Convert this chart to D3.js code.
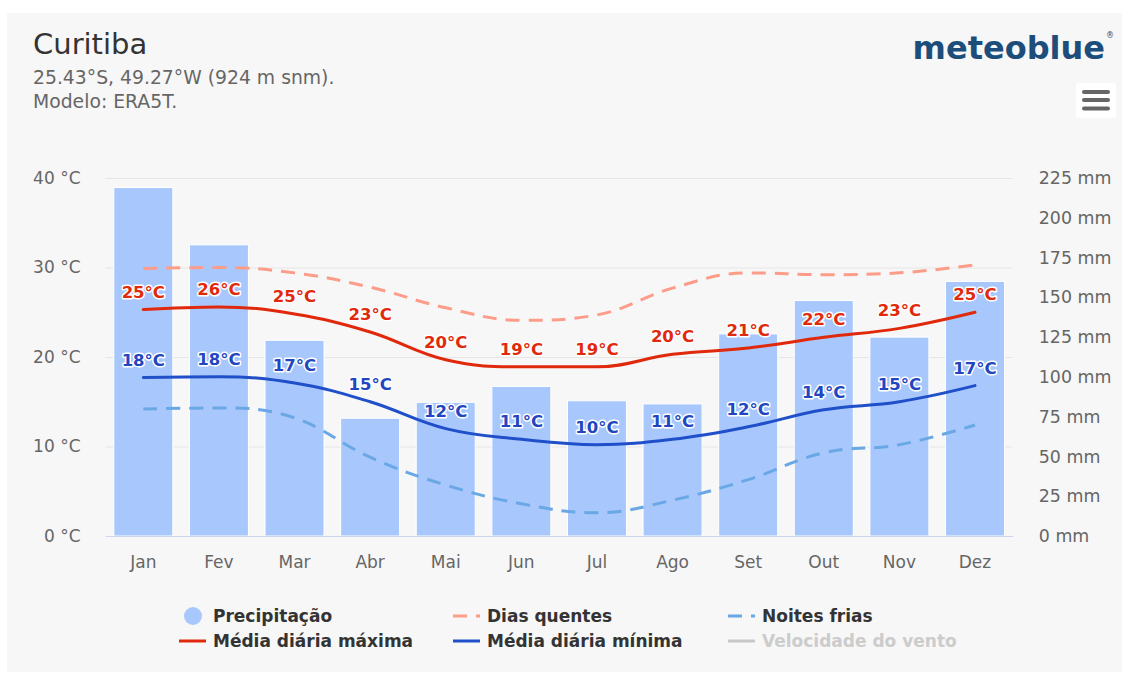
<!DOCTYPE html>
<html>
<head>
<meta charset="utf-8">
<script src="https://cdn.jsdelivr.net/npm/d3@7"></script>
<style>
  html, body { margin: 0; padding: 0; background: #ffffff; }
  svg { display: block; font-family: "DejaVu Sans", sans-serif; }
</style>
</head>
<body>
<svg id="chart" width="1130" height="674"></svg>
<script>
// Climate summary for Curitiba: monthly means
const months = ["Jan", "Fev", "Mar", "Abr", "Mai", "Jun", "Jul", "Ago", "Set", "Out", "Nov", "Dez"];
const precipitation = [219, 183, 123, 74, 84, 94, 85, 83, 127, 148, 125, 160];      // mm
const tempMax = [25.3, 25.6, 24.8, 22.8, 19.7, 18.9, 18.9, 20.3, 21.0, 22.2, 23.2, 25.0];
const tempMin = [17.7, 17.8, 17.1, 15.0, 12.0, 10.8, 10.2, 10.8, 12.2, 14.1, 15.0, 16.8];
const hotDays = [29.9, 30.0, 29.4, 27.8, 25.5, 24.1, 24.7, 27.7, 29.4, 29.2, 29.4, 30.3];
const coldNights = [14.2, 14.3, 13.2, 8.8, 5.7, 3.6, 2.6, 4.0, 6.3, 9.3, 10.2, 12.4];
const tempTicks = [0, 10, 20, 30, 40];
const precipTicks = [0, 25, 50, 75, 100, 125, 150, 175, 200, 225];

const colors = {
  bar: "#a8c8fd",
  max: "#e0280b",
  min: "#1f4fc9",
  hot: "#fd9c88",
  cold: "#6aa8e5",
  wind: "#c8c8c8"
};

const svg = d3.select("#chart");
const plot = { left: 105.5, right: 1012.8, top: 178, bottom: 536 };

// panel background
svg.append("rect").attr("x", 7).attr("y", 13).attr("width", 1115).attr("height", 659)
  .attr("fill", "#f7f7f7");

// header
svg.append("text").attr("x", 33).attr("y", 54).attr("font-size", 29).attr("fill", "#333")
  .text("Curitiba");
svg.append("text").attr("x", 33).attr("y", 84).attr("font-size", 18.8).attr("fill", "#666")
  .text("25.43°S, 49.27°W (924 m snm).");
svg.append("text").attr("x", 33).attr("y", 108).attr("font-size", 18.8).attr("fill", "#666")
  .text("Modelo: ERA5T.");

// brand mark
svg.append("text").attr("x", 1105).attr("y", 59).attr("text-anchor", "end")
  .attr("font-size", 32).attr("font-weight", "bold").attr("fill", "#1d4e7b")
  .text("meteoblue");
svg.append("text").attr("x", 1110).attr("y", 38).attr("text-anchor", "middle")
  .attr("font-size", 8).attr("fill", "#1d4e7b").text("®");

// menu button
const menu = svg.append("g");
menu.append("rect").attr("x", 1076).attr("y", 83).attr("width", 40).attr("height", 35)
  .attr("rx", 3).attr("fill", "#ffffff");
[92, 100, 108.5].forEach(y => {
  menu.append("rect").attr("x", 1082).attr("y", y - 2).attr("width", 28).attr("height", 4)
    .attr("rx", 2).attr("fill", "#666");
});

// scales
const x = d3.scaleBand().domain(months).range([plot.left, plot.right]).padding(0);
const yT = d3.scaleLinear().domain([0, 40]).range([plot.bottom, plot.top]);
const yP = d3.scaleLinear().domain([0, 225]).range([plot.bottom, plot.top]);
const cx = m => x(m) + x.bandwidth() / 2;

// grid + left axis
const leftAxis = svg.append("g").attr("transform", `translate(${plot.left},0)`)
  .call(d3.axisLeft(yT).tickValues(tempTicks).tickSize(-(plot.right - plot.left))
    .tickPadding(25).tickFormat(d => `${d} °C`));
leftAxis.select(".domain").remove();
leftAxis.selectAll("line").attr("stroke", "#e6e6e6");
leftAxis.selectAll("text").attr("font-family", "DejaVu Sans").attr("font-size", 17).attr("fill", "#666");

// right axis
const rightAxis = svg.append("g").attr("transform", `translate(${plot.right},0)`)
  .call(d3.axisRight(yP).tickValues(precipTicks).tickSize(0).tickPadding(26)
    .tickFormat(d => `${d} mm`));
rightAxis.select(".domain").remove();
rightAxis.selectAll("text").attr("font-family", "DejaVu Sans").attr("font-size", 17.4).attr("fill", "#666");

// bars
const barW = 59;
svg.append("g").selectAll("rect").data(months).join("rect")
  .attr("x", (m) => cx(m) - barW / 2)
  .attr("y", (m, i) => yP(precipitation[i]))
  .attr("width", barW)
  .attr("height", (m, i) => plot.bottom - yP(precipitation[i]))
  .attr("fill", colors.bar)
  .attr("stroke", "#ffffff").attr("stroke-width", 1);

// bottom axis
const bottomAxis = svg.append("g").attr("transform", `translate(0,${plot.bottom})`)
  .call(d3.axisBottom(x).tickSize(0));
bottomAxis.select(".domain").attr("stroke", "#ccd6eb");
bottomAxis.selectAll("text").attr("font-family", "DejaVu Sans").attr("font-size", 17)
  .attr("fill", "#666").attr("y", 32).attr("dy", 0);

// smooth line through points (spline with smoothing 1.5, no false extremes)
function splinePath(pts) {
  const p = d3.path();
  const smoothing = 1.5, denom = smoothing + 1;
  const rc = [];
  pts.forEach((pt, i) => {
    const [px, py] = pt;
    let lcx = px, lcy = py, rcx = px, rcy = py;
    if (i > 0 && i < pts.length - 1) {
      const [lx, ly] = pts[i - 1], [nx, ny] = pts[i + 1];
      lcx = (smoothing * px + lx) / denom; lcy = (smoothing * py + ly) / denom;
      rcx = (smoothing * px + nx) / denom; rcy = (smoothing * py + ny) / denom;
      let corr = 0;
      if (rcx !== lcx) corr = ((rcy - lcy) * (rcx - px)) / (rcx - lcx) + py - rcy;
      lcy += corr; rcy += corr;
      if (lcy > ly && lcy > py) { lcy = Math.max(ly, py); rcy = 2 * py - lcy; }
      else if (lcy < ly && lcy < py) { lcy = Math.min(ly, py); rcy = 2 * py - lcy; }
      if (rcy > ny && rcy > py) { rcy = Math.max(ny, py); lcy = 2 * py - rcy; }
      else if (rcy < ny && rcy < py) { rcy = Math.min(ny, py); lcy = 2 * py - rcy; }
    }
    rc[i] = [rcx, rcy];
    if (i === 0) p.moveTo(px, py);
    else p.bezierCurveTo(rc[i - 1][0], rc[i - 1][1], lcx, lcy, px, py);
  });
  return p.toString();
}

function drawLine(values, color, dashed) {
  const pts = values.map((v, i) => [cx(months[i]), yT(v)]);
  svg.append("path").attr("d", splinePath(pts)).attr("fill", "none")
    .attr("stroke", color).attr("stroke-width", 3)
    .attr("stroke-dasharray", dashed ? "14,9" : null)
    .attr("stroke-linecap", dashed ? "butt" : "round")
    .attr("stroke-linejoin", "round");
}

drawLine(hotDays, colors.hot, true);
drawLine(coldNights, colors.cold, true);
drawLine(tempMax, colors.max, false);
drawLine(tempMin, colors.min, false);

// value labels
function drawLabels(values, color) {
  svg.append("g").selectAll("text").data(values).join("text")
    .attr("x", (v, i) => cx(months[i]))
    .attr("y", v => yT(v) - 12)
    .attr("text-anchor", "middle")
    .attr("font-size", 16.5).attr("font-weight", "bold")
    .attr("fill", color)
    .attr("stroke", "#ffffff").attr("stroke-width", 3)
    .attr("stroke-linejoin", "round").attr("paint-order", "stroke")
    .text(v => `${Math.round(v)}°C`);
}
drawLabels(tempMax, "#e02a0b");
drawLabels(tempMin, "#2146c0");

// legend
const legend = svg.append("g").attr("font-size", 17).attr("font-weight", "bold");
const legendItems = [
  { name: "Precipitação", type: "circle", color: colors.bar, col: 0, row: 0 },
  { name: "Dias quentes", type: "dash", color: colors.hot, col: 1, row: 0 },
  { name: "Noites frias", type: "dash", color: colors.cold, col: 2, row: 0 },
  { name: "Média diária máxima", type: "line", color: colors.max, col: 0, row: 1 },
  { name: "Média diária mínima", type: "line", color: colors.min, col: 1, row: 1 },
  { name: "Velocidade do vento", type: "line", color: colors.wind, col: 2, row: 1, hidden: true }
];
const colX = [179, 453, 728];
const rowY = [616, 641];
legendItems.forEach(it => {
  const g = legend.append("g").attr("transform", `translate(${colX[it.col]},${rowY[it.row]})`);
  if (it.type === "circle") {
    g.append("circle").attr("cx", 14).attr("cy", 0).attr("r", 9).attr("fill", it.color);
  } else {
    g.append("line").attr("x1", 0).attr("x2", 27).attr("y1", 0).attr("y2", 0)
      .attr("stroke", it.color).attr("stroke-width", 3)
      .attr("stroke-dasharray", it.type === "dash" ? "14,9" : null);
  }
  g.append("text").attr("x", 34).attr("y", 6)
    .attr("fill", it.hidden ? "#cccccc" : "#333333").text(it.name);
});
</script>
</body>
</html>
